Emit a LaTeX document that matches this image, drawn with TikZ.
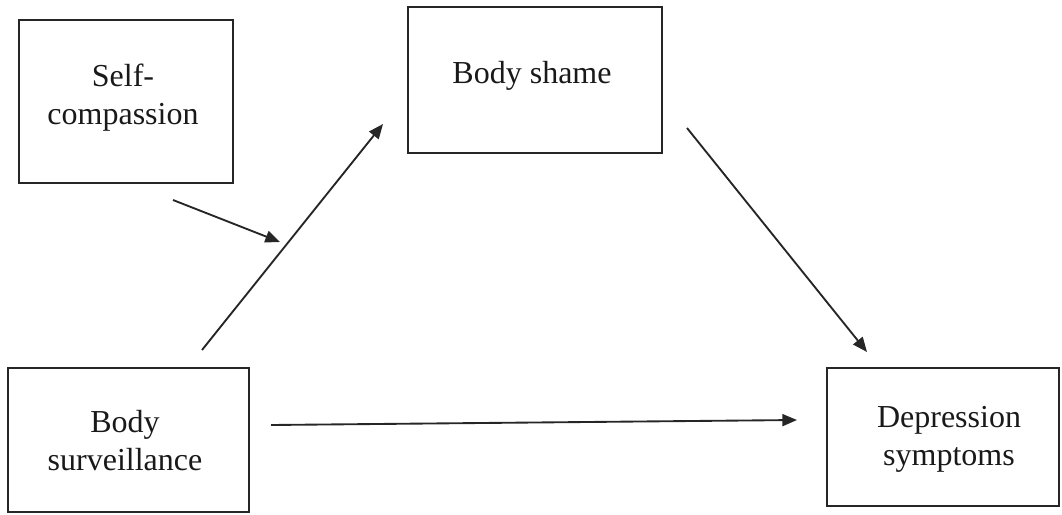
\documentclass[tikz,border=0pt]{standalone}
\usepackage{fontspec}
\setmainfont{Liberation Serif}
\usetikzlibrary{arrows.meta}
\begin{document}
\begin{tikzpicture}[x=0.75pt,y=-0.75pt,
  box/.style={draw=black!85, line width=1.5pt, rectangle, inner sep=0pt},
  lbl/.style={font=\fontsize{24}{28.5}\selectfont, align=center, text=black!90, inner sep=0pt},
  conn/.style={line width=1.4pt, draw=black!85, -{Triangle[length=11pt,width=9pt]}}]
\useasboundingbox (0,0) rectangle (1062,514);
% boxes
\node[box, minimum width=160.5pt, minimum height=122.25pt] (sc) at (126,101.5) {};
\node[box, minimum width=190.5pt, minimum height=109.5pt] (bs) at (535,80) {};
\node[box, minimum width=180.75pt, minimum height=108pt] (sv) at (128.5,440) {};
\node[box, minimum width=174pt, minimum height=103.5pt] (dp) at (943,437) {};
% labels
\node[lbl] (sct) at (123,98) {Self-\\compassion};
\node[lbl] (bst) at (532,75.5) {Body shame};
\node[lbl] (svt) at (125,441) {Body\\surveillance};
\node[lbl] (dpt) at (949,439.5) {Depression\\symptoms};
% connector ends
\coordinate (a1s) at (202,350);
\coordinate (a1e) at (383,124);
\coordinate (a2s) at (173,200);
\coordinate (a2e) at (280,242);
\coordinate (a3s) at (687,128);
\coordinate (a3e) at (867,352);
\coordinate (a4s) at (271,425);
\coordinate (a4e) at (797,420);
\draw[conn] (a1s) -- (a1e);
\draw[conn] (a2s) -- (a2e);
\draw[conn] (a3s) -- (a3e);
\draw[conn] (a4s) -- (a4e);
\end{tikzpicture}
\end{document}
